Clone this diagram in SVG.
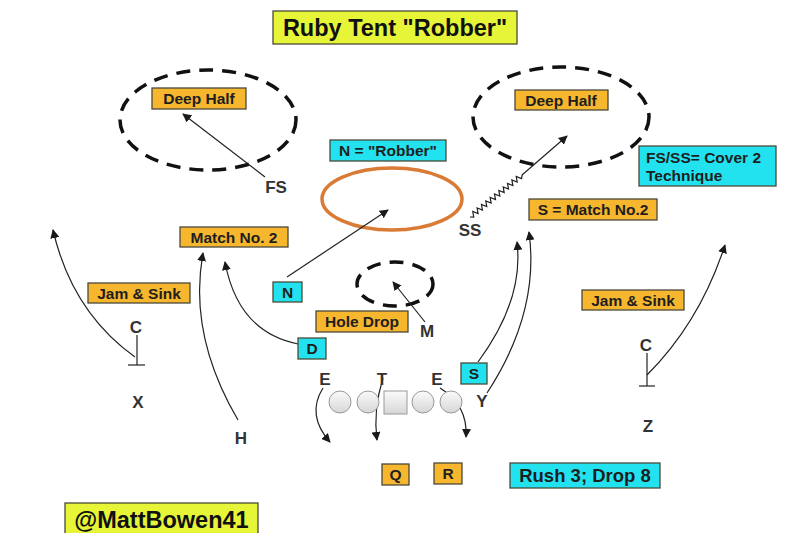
<svg xmlns="http://www.w3.org/2000/svg" width="800" height="533" viewBox="0 0 800 533">
<defs>
<marker id="ah" viewBox="0 0 10 10" refX="9" refY="5" markerWidth="9" markerHeight="9" markerUnits="userSpaceOnUse" orient="auto">
<path d="M0,0 L10,5 L0,10 z" fill="#1a1a1a"/>
</marker>
<linearGradient id="lg" x1="0" y1="0" x2="0" y2="1">
<stop offset="0" stop-color="#fbfbfb"/>
<stop offset="1" stop-color="#d6d6d6"/>
</linearGradient>
<style>
.box{stroke:#4a4a3a;stroke-width:1.3}
.or{fill:#f6b62e}
.cy{fill:#22e2ef}
.ye{fill:#e6f538}
.lbl{font-family:"Liberation Sans",Arial,sans-serif;font-weight:bold;font-size:15.5px;fill:#1e1e1e;text-anchor:middle}
.big{font-family:"Liberation Sans",Arial,sans-serif;font-weight:bold;font-size:23.5px;fill:#111;text-anchor:middle}
.pl{font-family:"Liberation Sans",Arial,sans-serif;font-weight:bold;font-size:17px;fill:#333;text-anchor:middle}
.dash{fill:none;stroke:#111;stroke-width:3.5;stroke-dasharray:14,9}
.ln{fill:none;stroke:#222;stroke-width:1.2}
.arw{fill:none;stroke:#222;stroke-width:1.2;marker-end:url(#ah)}
.ol{fill:url(#lg);stroke:#999;stroke-width:1}
</style>
</defs>
<rect width="800" height="533" fill="#fff"/>

<g id="title"><rect class="box ye" x="273" y="11" width="244" height="33"/><text class="big" x="395" y="36">Ruby Tent "Robber"</text></g>

<g id="zone-left"><ellipse class="dash" cx="208" cy="120" rx="88" ry="50"/></g>
<g id="zone-right"><ellipse class="dash" cx="561" cy="117" rx="88" ry="50"/></g>
<g id="zone-robber"><ellipse cx="392" cy="199" rx="70" ry="31" fill="none" stroke="#d97a35" stroke-width="3.5"/></g>
<g id="zone-hole"><ellipse class="dash" cx="395" cy="284" rx="38" ry="22" stroke-width="3" stroke-dasharray="11,8"/></g>

<g id="connectors">
<path class="arw" d="M265,177 L183,114"/>
<polyline class="ln" points="470,217 473.74,217.18 472.78,211.55 478.09,213.67 477.12,208.04 482.44,210.16 481.47,204.52 486.78,206.65 485.81,201.01 491.13,203.14 490.16,197.5 495.47,199.62 494.51,193.99 499.82,196.11 498.85,190.48 504.17,192.6 503.2,186.96 508.51,189.09 507.54,183.45 512.86,185.58 511.89,179.94 517.2,182.06 516.24,176.43 521.55,178.55 522.15,174.86"/>
<path class="arw" d="M522,175 L567,136"/>
<path class="arw" d="M287,277 L388,210"/>
<path class="arw" d="M135,357 Q72,312 53,230"/>
<line class="ln" x1="137" y1="335" x2="137" y2="365"/>
<line class="ln" x1="128" y1="365" x2="145" y2="365"/>
<path class="arw" d="M238,420 Q188,335 203,253"/>
<path class="arw" d="M298,344 Q238,332 225,262"/>
<path class="arw" d="M425,322 L393,282"/>
<path class="arw" d="M478,362 Q524,300 517,242"/>
<path class="arw" d="M487,393 Q540,312 529,232"/>
<path class="arw" d="M647,375 Q700,322 725,245"/>
<line class="ln" x1="647" y1="353" x2="647" y2="386"/>
<line class="ln" x1="639" y1="386" x2="655" y2="386"/>
<path class="arw" d="M323,388 Q306,415 330,442"/>
<path class="arw" d="M383,378 Q373,410 377,440"/>
<path class="arw" d="M440,388 Q468,405 466,437"/>
</g>

<g id="deep-half-left"><rect class="box or" x="152" y="88" width="94" height="21"/><text class="lbl" x="199" y="104">Deep Half</text></g>
<g id="deep-half-right"><rect class="box or" x="515" y="90" width="93" height="20"/><text class="lbl" x="561" y="106">Deep Half</text></g>
<g id="robber-label"><rect class="box cy" x="330" y="140" width="116" height="21"/><text class="lbl" x="388" y="156">N = "Robber"</text></g>
<g id="cover2-note"><rect class="box cy" x="639" y="146" width="137" height="40"/><text class="lbl" x="646" y="163" style="text-anchor:start">FS/SS= Cover 2</text><text class="lbl" x="646" y="181" style="text-anchor:start">Technique</text></g>
<g id="s-match"><rect class="box or" x="529" y="199" width="128" height="21"/><text class="lbl" x="593" y="215">S = Match No.2</text></g>
<g id="match-left"><rect class="box or" x="180" y="227" width="108" height="20"/><text class="lbl" x="234" y="243">Match No. 2</text></g>
<g id="jam-left"><rect class="box or" x="88" y="283" width="102" height="20"/><text class="lbl" x="139" y="299">Jam &amp; Sink</text></g>
<g id="jam-right"><rect class="box or" x="582" y="290" width="102" height="20"/><text class="lbl" x="633" y="306">Jam &amp; Sink</text></g>
<g id="hole-drop"><rect class="box or" x="316" y="311" width="92" height="21"/><text class="lbl" x="362" y="327">Hole Drop</text></g>
<g id="N"><rect class="box cy" x="273" y="282" width="29" height="20"/><text class="lbl" x="287.5" y="298">N</text></g>
<g id="D"><rect class="box cy" x="298" y="338" width="28" height="21"/><text class="lbl" x="312" y="354">D</text></g>
<g id="S"><rect class="box cy" x="461" y="363" width="26" height="21"/><text class="lbl" x="474" y="379">S</text></g>
<g id="Q"><rect class="box or" x="382" y="464" width="27" height="21"/><text class="lbl" x="395.5" y="480">Q</text></g>
<g id="R"><rect class="box or" x="434" y="463" width="28" height="21"/><text class="lbl" x="448" y="479">R</text></g>
<g id="rush"><rect class="box cy" x="510" y="463" width="150" height="25"/><text class="lbl" x="585" y="482" style="font-size:18.5px">Rush 3; Drop 8</text></g>
<g id="handle"><rect class="box ye" x="65" y="503" width="193" height="34"/><text class="big" x="161.5" y="528">@MattBowen41</text></g>

<g id="FS"><text class="pl" x="276" y="193">FS</text></g>
<g id="SS"><text class="pl" x="470" y="236">SS</text></g>
<g id="M"><text class="pl" x="427" y="337">M</text></g>
<g id="C-left"><text class="pl" x="136" y="333">C</text></g>
<g id="C-right"><text class="pl" x="646" y="351">C</text></g>
<g id="X"><text class="pl" x="138" y="408">X</text></g>
<g id="H"><text class="pl" x="241" y="444">H</text></g>
<g id="Y"><text class="pl" x="482" y="407">Y</text></g>
<g id="Z"><text class="pl" x="648" y="432">Z</text></g>
<g id="E-left"><text class="pl" x="325" y="385">E</text></g>
<g id="T"><text class="pl" x="382" y="385">T</text></g>
<g id="E-right"><text class="pl" x="437" y="385">E</text></g>

<g id="line">
<circle class="ol" cx="340" cy="402" r="11"/>
<circle class="ol" cx="368" cy="402" r="11"/>
<rect class="ol" x="384" y="391" width="23" height="23"/>
<circle class="ol" cx="423" cy="402" r="11"/>
<circle class="ol" cx="451" cy="402" r="11"/>
</g>
</svg>
